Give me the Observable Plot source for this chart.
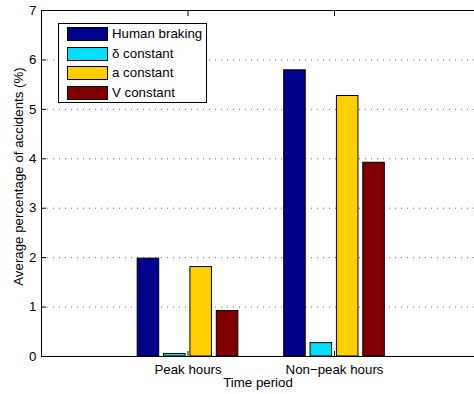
<!DOCTYPE html>
<html><head><meta charset="utf-8">
<script src="https://cdn.jsdelivr.net/npm/d3@7"></script>
<script src="https://cdn.jsdelivr.net/npm/@observablehq/plot@0.6"></script>
<style>
body{margin:0;background:#fff;}
#wrap{position:relative;width:474px;height:394px;font-family:"Liberation Sans",Arial,sans-serif;}
#legend{position:absolute;left:58px;top:23px;width:149px;height:80px;border:1px solid #000;background:#fff;box-sizing:border-box;}
.row{position:absolute;left:8px;height:14px;font-size:13.3px;line-height:14px;}
.sw{position:absolute;left:0;top:0;width:41px;height:14px;border:1px solid #000;box-sizing:border-box;}
.lab{position:absolute;left:45px;top:0;white-space:nowrap;color:#000;}
</style></head>
<body><div id="wrap"></div>
<script>
const periods = ["Peak hours", "Non\u2212peak hours"];
const series = ["Human braking", "\u03b4 constant", "a constant", "V constant"];
const humanBraking = [1.98, 5.79];
const deltaConstant = [0.05, 0.27];
const aConstant = [1.81, 5.27];
const vConstant = [0.92, 3.92];
const colors = ["#00008f", "#00dfff", "#ffcf00", "#800000"];
const yTicks = [0, 1, 2, 3, 4, 5, 6, 7];

const seriesValues = [humanBraking, deltaConstant, aConstant, vConstant];
const groupWidth = 0.18, barWidth = 0.147;
const rows = [];
periods.forEach((p, i) => {
  seriesValues.forEach((vals, j) => {
    const c = (i + 1) + (j - 1.5) * groupWidth;
    rows.push({period: p, series: series[j], value: vals[i], x1: c - barWidth / 2, x2: c + barWidth / 2});
  });
});

const chart = Plot.plot({
  width: 474, height: 394,
  marginLeft: 41, marginRight: 0, marginTop: 10, marginBottom: 38,
  style: {fontFamily: "Liberation Sans, Arial, sans-serif", fontSize: "13.3px", background: "#fff", color: "#000"},
  x: {type: "linear", domain: [0, 433 / 146.5]},
  y: {domain: [0, 7]},
  color: {domain: series, range: colors},
  marks: [
    Plot.gridY(yTicks.slice(1, -1), {stroke: "#555", strokeOpacity: 0.9, strokeDasharray: "1,5"}),
    Plot.rectY(rows, {x1: "x1", x2: "x2", y1: 0, y2: "value", fill: "series", stroke: "#000", strokeWidth: 1}),
    Plot.ruleX([0], {stroke: "#000"}),
    Plot.ruleY([0, 7], {stroke: "#000"}),
    Plot.axisY(yTicks, {tickSize: 0, tickPadding: 5, label: null}),
    Plot.axisY(yTicks, {tickSize: -5, text: null, label: null}),
    Plot.axisX([1, 2], {anchor: "bottom", tickSize: 0, tickPadding: 8, tickFormat: d => periods[d - 1], label: null}),
    Plot.axisX([1, 2], {anchor: "bottom", tickSize: -5, text: null, label: null}),
    Plot.axisX([1, 2], {anchor: "top", tickSize: -5, text: null, label: null}),
    Plot.text(["Time period"], {frameAnchor: "bottom", lineAnchor: "top", dy: 21}),
    Plot.text(["Average percentage of accidents (%)"], {frameAnchor: "left", textAnchor: "middle", rotate: -90, dx: -23, dy: -7})
  ]
});
const wrap = document.getElementById("wrap");
wrap.appendChild(chart);

const legend = document.createElement("div");
legend.id = "legend";
series.forEach((s, k) => {
  const row = document.createElement("div");
  row.className = "row";
  row.style.top = (3 + k * 19.6) + "px";
  const sw = document.createElement("div");
  sw.className = "sw";
  sw.style.background = colors[k];
  const lab = document.createElement("span");
  lab.className = "lab";
  lab.textContent = s;
  row.appendChild(sw);
  row.appendChild(lab);
  legend.appendChild(row);
});
wrap.appendChild(legend);
</script>
</body></html>
